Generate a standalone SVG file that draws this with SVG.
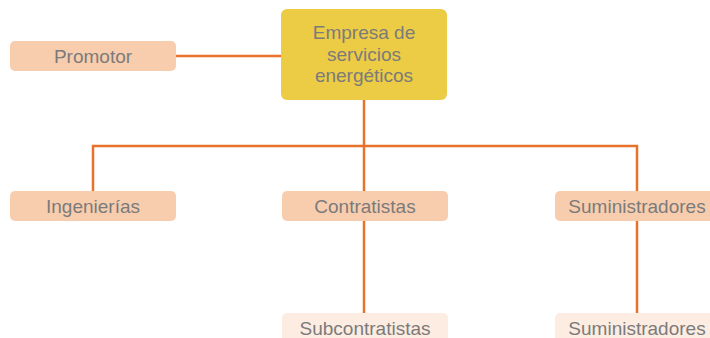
<svg xmlns="http://www.w3.org/2000/svg" width="710" height="338" viewBox="0 0 710 338">
<style>
.box{fill:#f8cdae}
.light{fill:#fdece1}
.main{fill:#eccb45}
.t{font-family:"Liberation Sans",Arial,sans-serif;font-size:19px;fill:#7b7b7b;text-anchor:middle}
.c{stroke:#e8712b;stroke-width:2.5;fill:none}
</style>
<rect width="710" height="338" fill="#ffffff"/>
<g id="connectors">
<path class="c" d="M176 56H281"/>
<path class="c" d="M364 100V146"/>
<path class="c" d="M93 191V146H637V191"/>
<path class="c" d="M364 146V191"/>
<path class="c" d="M364 221V313"/>
<path class="c" d="M637 221V313"/>
</g>
<g id="promotor"><rect class="box" x="10" y="41" width="166" height="30" rx="5"/><text class="t" x="93" y="62.5">Promotor</text></g>
<g id="empresa"><rect class="main" x="281" y="9" width="166" height="91" rx="6"/>
<text class="t" x="364" y="39">Empresa de</text><text class="t" x="364" y="60.5">servicios</text><text class="t" x="364" y="82">energéticos</text></g>
<g id="ingenierias"><rect class="box" x="10" y="191" width="166" height="30" rx="5"/><text class="t" x="93" y="212.5">Ingenierías</text></g>
<g id="contratistas"><rect class="box" x="282" y="191" width="166" height="30" rx="5"/><text class="t" x="365" y="212.5">Contratistas</text></g>
<g id="suministradores1"><rect class="box" x="555" y="191" width="166" height="30" rx="5"/><text class="t" x="637" y="212.5">Suministradores</text></g>
<g id="subcontratistas"><rect class="light" x="282" y="313" width="166" height="30" rx="5"/><text class="t" x="365" y="334.5">Subcontratistas</text></g>
<g id="suministradores2"><rect class="light" x="555" y="313" width="166" height="30" rx="5"/><text class="t" x="637" y="334.5">Suministradores</text></g>
</svg>
